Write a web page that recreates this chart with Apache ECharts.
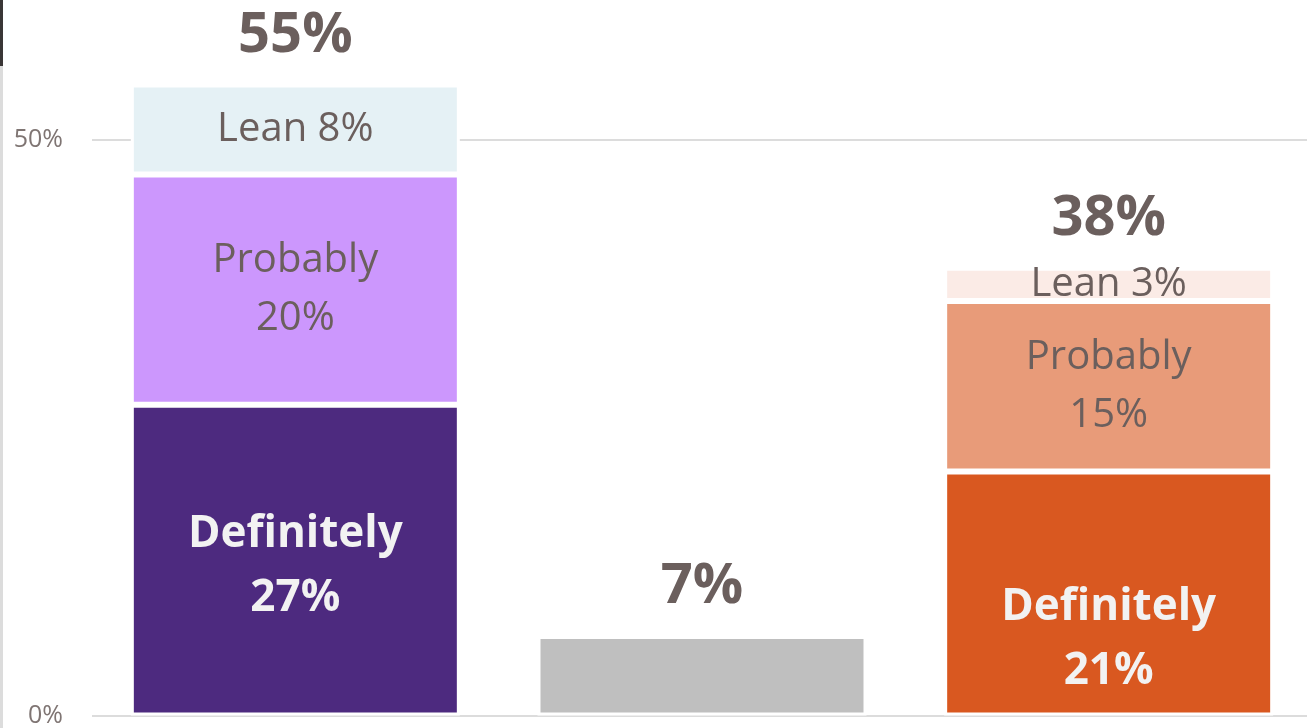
<!DOCTYPE html>
<html>
<head>
<meta charset="utf-8">
<script src="https://cdn.jsdelivr.net/npm/echarts@6/dist/echarts.min.js"></script>
<style>
  html, body { margin: 0; padding: 0; background: #fff; overflow: hidden; }
  #chart { width: 1312px; height: 728px; }
</style>
</head>
<body>
<div id="chart"></div>
<script>
const categories = ['Left', 'Undecided', 'Right'];
const definitely = [27, 6.9, 21.2];
const probably = [20, 0, 14.8];
const lean = [7.8, 0, 2.9];
const totalLabels = ['55%', '7%', '38%'];
const definitelyLabels = ['27%', '', '21%'];
const probablyLabels = ['20%', '', '15%'];
const leanLabels = ['8%', '', '3%'];
const yTicks = [0, 50];

const TEXT = '#6b5f5d';
const FONT = 'Open Sans';
const DEF_COLORS = ['#4d2a7f', '#bfbfbf', '#d95820'];
const PROB_COLORS = ['#cc97fd', '#bfbfbf', '#e89b79'];
const LEAN_COLORS = ['#e5f1f5', '#bfbfbf', '#fbebe6'];
const DEF_OFFSETS = [[0, 6], [0, 0], [0, 46]];

function items(values, colors) {
  return values.map((v, i) => ({
    value: v,
    itemStyle: { color: colors[i], borderWidth: v ? 3 : 0 }
  }));
}

const chart = echarts.init(document.getElementById('chart'));

chart.setOption({
  backgroundColor: '#fff',
  animation: false,
  grid: { left: 92, right: 0, top: 0, bottom: 12 },
  xAxis: {
    type: 'category',
    data: categories,
    axisLine: { show: false },
    axisTick: { show: false },
    axisLabel: { show: false }
  },
  yAxis: {
    type: 'value',
    min: 0,
    max: 62.15,
    interval: 50,
    axisLine: { show: false },
    axisTick: { show: false },
    axisLabel: {
      fontFamily: FONT,
      fontSize: 25,
      color: '#7f7573',
      margin: 29,
      formatter: v => (yTicks.includes(v) ? v + '%' : '')
    },
    splitLine: { lineStyle: { color: ['#dcdcdc', '#dcdcdc', 'transparent'], width: 2 } }
  },
  graphic: [
    { type: 'rect', left: 0, top: 0, shape: { width: 3, height: 66 }, style: { fill: '#3a3636' } },
    { type: 'rect', left: 0, top: 66, shape: { width: 3, height: 662 }, style: { fill: '#dcdcdc' } }
  ],
  series: [
    {
      type: 'bar',
      stack: 'all',
      barWidth: 329,
      data: items(definitely, DEF_COLORS).map((d, i) => Object.assign(d, { label: { offset: DEF_OFFSETS[i] } })),
      itemStyle: { borderColor: '#fff' },
      label: {
        show: true,
        position: 'inside',
        fontFamily: FONT,
        fontSize: 44,
        fontWeight: 'bold',
        lineHeight: 64,
        color: '#f2f2f2',
        formatter: p => (definitelyLabels[p.dataIndex] ? 'Definitely\n' + definitelyLabels[p.dataIndex] : '')
      }
    },
    {
      type: 'bar',
      stack: 'all',
      data: items(probably, PROB_COLORS),
      itemStyle: { borderColor: '#fff' },
      label: {
        show: true,
        position: 'inside',
        fontFamily: FONT,
        fontSize: 40,
        lineHeight: 58,
        color: TEXT,
        formatter: p => (probablyLabels[p.dataIndex] ? 'Probably\n' + probablyLabels[p.dataIndex] : '')
      }
    },
    {
      type: 'bar',
      stack: 'all',
      data: items(lean, LEAN_COLORS),
      itemStyle: { borderColor: '#fff' },
      label: {
        show: true,
        position: 'inside',
        fontFamily: FONT,
        fontSize: 40,
        color: TEXT,
        formatter: p => (leanLabels[p.dataIndex] ? 'Lean ' + leanLabels[p.dataIndex] : '')
      }
    },
    {
      type: 'bar',
      stack: 'all',
      data: [0, 0, 0],
      itemStyle: { color: 'transparent', borderWidth: 0 },
      label: {
        show: true,
        position: 'top',
        distance: 21,
        fontFamily: FONT,
        fontSize: 56,
        fontWeight: 'bold',
        color: TEXT,
        formatter: p => totalLabels[p.dataIndex]
      }
    }
  ]
});
</script>
</body>
</html>
